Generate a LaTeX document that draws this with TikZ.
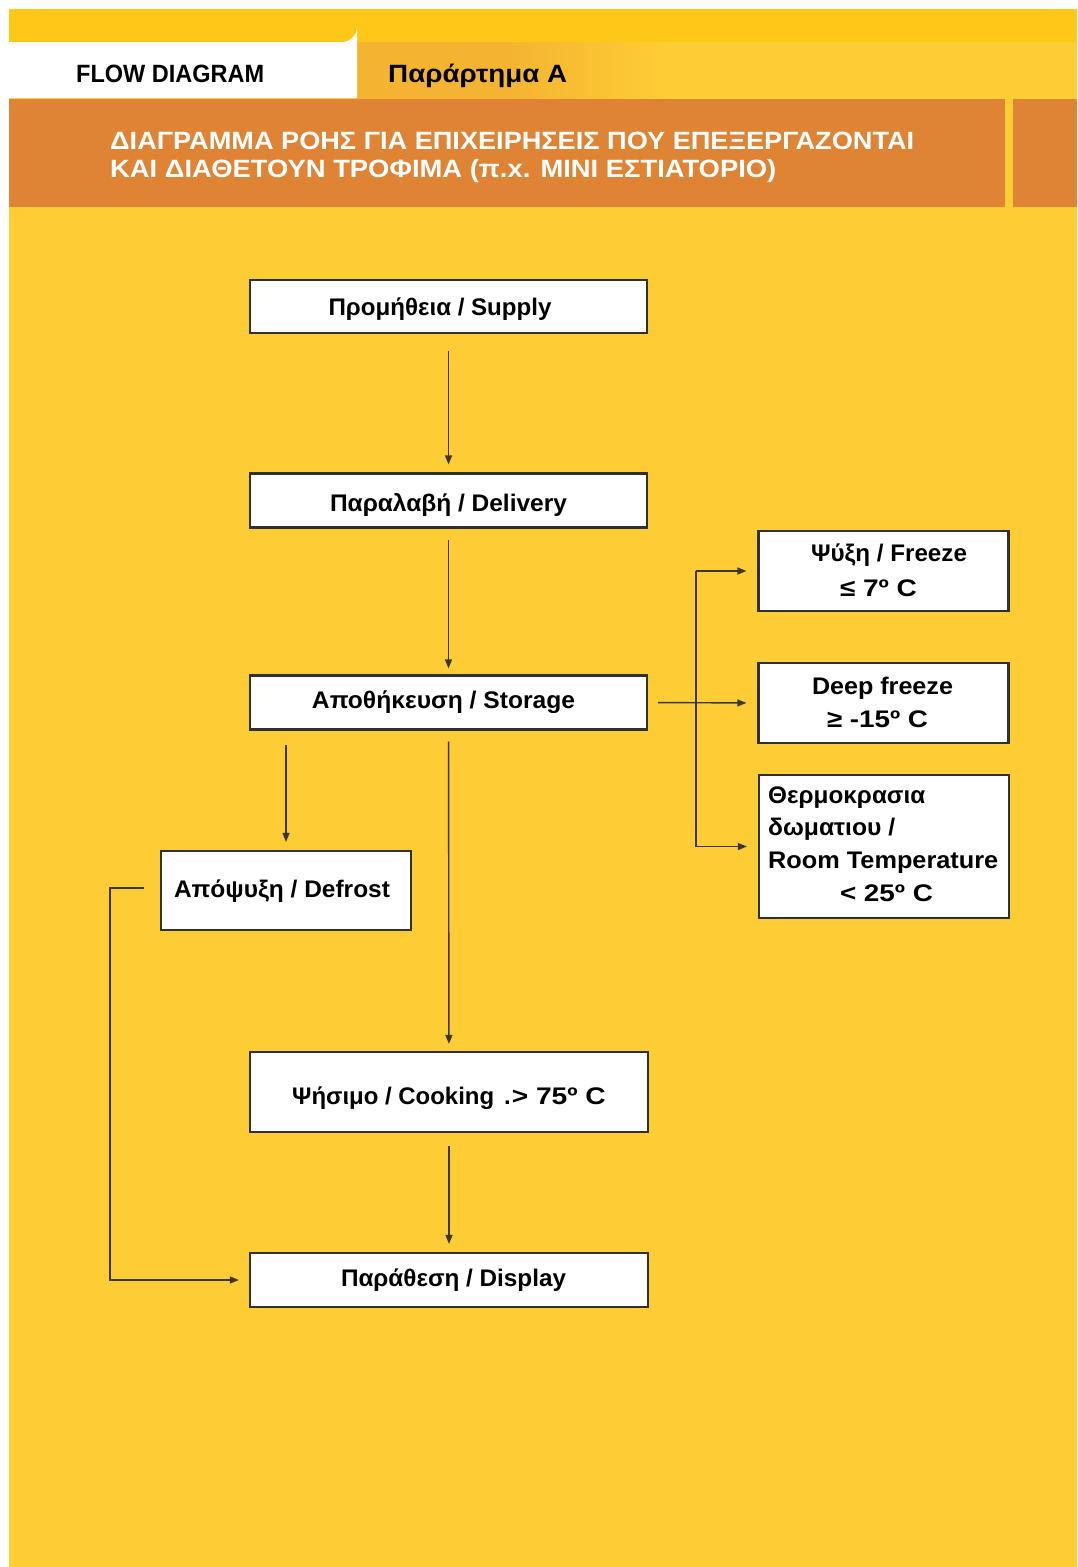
\documentclass[tikz,border=0pt]{standalone}
\usepackage{fontspec}
\usepackage{graphicx}
\setmainfont{Liberation Sans}
\usetikzlibrary{arrows.meta}
\newcommand\fw[2]{\resizebox{#1}{\height}{#2}}
\definecolor{bgyellow}{RGB}{254,204,52}
\definecolor{topyellow}{RGB}{255,200,24}
\definecolor{tabtint}{RGB}{244,180,50}
\definecolor{bandorange}{RGB}{222,132,52}
\definecolor{linecol}{RGB}{58,56,44}
\definecolor{boxline}{RGB}{48,48,44}
\begin{document}
\begin{tikzpicture}[x=1pt,y=-1pt,
  box/.style={draw=boxline, line width=2.2pt, fill=white, inner sep=0pt},
  lbl/.style={inner sep=0pt, anchor=base, font=\bfseries\fontsize{24}{24}\selectfont},
  lblw/.style={lbl, anchor=base west},
  arr/.style={draw=linecol, line width=1.4pt, -{Triangle[length=9pt,width=7pt]}},
  ln/.style={draw=linecol, line width=1.4pt},
  hdr/.style={inner sep=0pt, anchor=base west, font=\bfseries\fontsize{25}{25}\selectfont}]
\useasboundingbox (0,0) rectangle (1077,1567);
% background
\fill[white] (0,0) rectangle (1077,1567);
\fill[bgyellow] (9,9) rectangle (1077,1567);
\fill[topyellow] (9,9) rectangle (1077,42);
\shade[left color=tabtint, right color=bgyellow, middle color=tabtint] (357,42) rectangle (660,98);
\fill[white] (9,42) -- (342,42) arc[start angle=90, end angle=0, radius=15] -- (357,98) -- (9,98) -- cycle;
\fill[bandorange] (9,99) rectangle (1005,207);
\fill[bandorange] (1013,99) rectangle (1077,207);
% header texts
\node[hdr] (flow) at (76,82) {\fw{188pt}{FLOW DIAGRAM}};
\node[hdr] (annex) at (388,82) {\fw{179pt}{Παράρτημα A}};
\node[hdr, text=white] (title1) at (110,149) {\fw{804pt}{ΔΙΑΓΡΑΜΜΑ ΡΟΗΣ ΓΙΑ ΕΠΙΧΕΙΡΗΣΕΙΣ ΠΟΥ ΕΠΕΞΕΡΓΑΖΟΝΤΑΙ}};
\node[hdr, text=white] (title2) at (110,177) {\fw{666pt}{ΚΑΙ ΔΙΑΘΕΤΟΥΝ ΤΡΟΦΙΜΑ (π.x. ΜΙΝΙ ΕΣΤΙΑΤΟΡΙΟ)}};
% boxes
\node[box, minimum width=397pt, minimum height=53pt] (supply) at (448.5,306.5) {};
\node[box, minimum width=397pt, minimum height=54pt] (delivery) at (448.5,500.5) {};
\node[box, minimum width=397pt, minimum height=54pt] (storage) at (448.5,702.5) {};
\node[box, minimum width=250pt, minimum height=80pt] (freeze) at (883.5,571) {};
\node[box, minimum width=250pt, minimum height=80pt] (deep) at (883.5,703) {};
\node[box, minimum width=250pt, minimum height=143pt] (room) at (884,846.5) {};
\node[box, minimum width=250pt, minimum height=79pt] (defrost) at (286,890.5) {};
\node[box, minimum width=398pt, minimum height=80pt] (cooking) at (449,1092) {};
\node[box, minimum width=398pt, minimum height=54pt] (display) at (449,1280) {};
% box texts
\node[lbl] (supplyT) at (440,315) {\fw{223pt}{Προμήθεια / Supply}};
\node[lbl] (deliveryT) at (448.5,511) {\fw{237pt}{Παραλαβή / Delivery}};
\node[lbl] (storageT) at (443.5,708) {\fw{263pt}{Αποθήκευση / Storage}};
\node[lbl] (freezeT1) at (889,561) {\fw{156pt}{Ψύξη / Freeze}};
\node[lbl] (freezeT2) at (878.5,596) {\fw{77pt}{≤ 7º C}};
\node[lbl] (deepT1) at (882.5,694) {\fw{141pt}{Deep freeze}};
\node[lbl] (deepT2) at (877.5,727) {\fw{101pt}{≥ -15º C}};
\node[lblw] (roomT1) at (768,803) {\fw{157pt}{Θερμοκρασια}};
\node[lblw] (roomT2) at (768,835) {\fw{127pt}{δωματιου /}};
\node[lblw] (roomT3) at (768,868) {\fw{230pt}{Room Temperature}};
\node[lbl] (roomT4) at (886.5,901) {\fw{93pt}{< 25º C}};
\node[lbl] (defrostT) at (282,897) {\fw{216pt}{Απόψυξη / Defrost}};
\node[lbl] (cookingT) at (449,1104) {\fw{202pt}{Ψήσιμο / Cooking}\hspace{10pt}.\hspace{1pt}\fw{94pt}{> 75º C}};
\node[lbl] (displayT) at (453.5,1286) {\fw{225pt}{Παράθεση / Display}};
% connectors
\coordinate (br) at (696,703);
\coordinate (loopx) at (110,888);
\draw[arr, shorten <=17pt, shorten >=8pt] (supply) -- (delivery);
\draw[arr, shorten <=11pt, shorten >=6pt] (delivery) -- (storage);
\draw[arr, shorten <=11pt, shorten >=7pt] (storage) -- (cooking);
\draw[arr, shorten <=13pt, shorten >=8pt] (cooking) -- (display);
\draw[arr, shorten <=14pt, shorten >=8pt] (defrost.north |- storage.south) -- (defrost.north);
\draw[arr, shorten <=10pt, shorten >=11pt] (storage.east) -- (deep.west);
\draw[ln] (br |- freeze.west) -- (br |- room.west);
\draw[arr, shorten >=11pt] (br |- freeze.west) -- (freeze.west);
\draw[arr, shorten >=11pt] (br |- room.west) -- (room.west);
\draw[arr, shorten >=10pt] ([xshift=-16pt]defrost.west |- loopx) -- (loopx) |- (display.west);
\end{tikzpicture}
\end{document}
